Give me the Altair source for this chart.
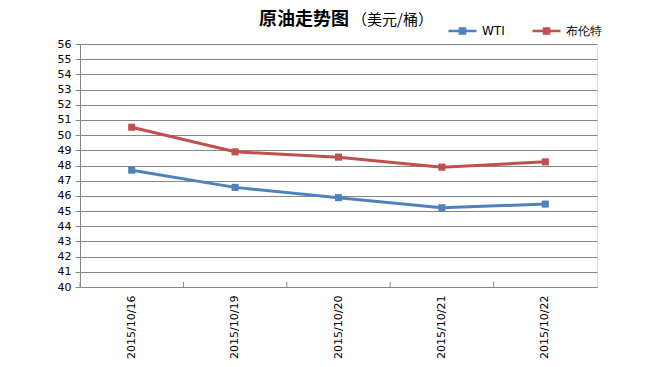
import altair as alt
import pandas as pd

dates = ["2015/10/16", "2015/10/19", "2015/10/20", "2015/10/21", "2015/10/22"]
wti = [47.69, 46.56, 45.88, 45.22, 45.46]
brent = [50.52, 48.90, 48.55, 47.89, 48.24]
series_names = ["WTI", "布伦特"]
series_colors = ["#4F81BD", "#C0504D"]
y_ticks = list(range(40, 57))
title_main = "原油走势图"
title_unit = "（美元/桶）"

rows = []
for d, v in zip(dates, wti):
    rows.append({"date": d, "series": series_names[0], "value": v})
for d, v in zip(dates, brent):
    rows.append({"date": d, "series": series_names[1], "value": v})
df = pd.DataFrame(rows)
df_dates = pd.DataFrame({"date": dates})

FONT = "DejaVu Sans"

x_scale = alt.Scale(paddingInner=0, paddingOuter=0)
x_axis = alt.Axis(
    title=None, labelAngle=-90, labelFont=FONT, labelFontSize=11,
    labelColor="#000000", domainColor="#868686", tickColor="#868686",
    tickSize=0, labelPadding=8, grid=False, bandPosition=0,
)
x_enc = alt.X("date:N", sort=dates, scale=x_scale, axis=x_axis)
y_enc = alt.Y(
    "value:Q",
    scale=alt.Scale(domain=[40, 56], nice=False, zero=False),
    axis=alt.Axis(
        title=None, values=y_ticks, labelFont=FONT, labelFontSize=11,
        labelColor="#000000", domainColor="#868686", tickColor="#868686",
        tickSize=5, labelPadding=4, grid=True, gridColor="#868686",
        gridWidth=1,
    ),
)
color_enc = alt.Color(
    "series:N",
    sort=series_names,
    scale=alt.Scale(domain=series_names, range=series_colors),
    legend=alt.Legend(
        title=None, orient="none", direction="horizontal",
        legendX=367, legendY=-29, labelFont=FONT, labelFontSize=12,
        labelColor="#000000",
        symbolType="M-1,0L1,0M-0.18,-0.18L0.18,-0.18L0.18,0.18L-0.18,0.18Z",
        symbolSize=784, symbolStrokeWidth=2.5, labelOffset=4,
        columnPadding=22, padding=0,
    ),
)

base = alt.Chart(df)
lines = base.mark_line(strokeWidth=3).encode(x=x_enc, y=y_enc, color=color_enc)
points = base.mark_point(shape="square", filled=True, size=50, opacity=1).encode(
    x=x_enc, y=y_enc, color=color_enc
)

xticks = alt.Chart(df_dates).mark_rule(color="#868686", strokeWidth=1).encode(
    x=alt.X("date:N", sort=dates, scale=x_scale, bandPosition=0, axis=x_axis),
    y=alt.value(238),
    y2=alt.value(243),
)

t1 = alt.Chart(pd.DataFrame({"t": [title_main]})).mark_text(
    font="Noto Sans CJK SC", fontSize=18, fontWeight="bold", align="left",
    baseline="alphabetic", color="#000000"
).encode(x=alt.value(179), y=alt.value(-19), text="t:N")
t2 = alt.Chart(pd.DataFrame({"t": [title_unit]})).mark_text(
    font="Noto Sans CJK SC", fontSize=15, align="left",
    baseline="alphabetic", color="#000000"
).encode(x=alt.value(272), y=alt.value(-19), text="t:N")

chart = alt.layer(xticks, lines, points, t1, t2).properties(
    width=517, height=243,
    autosize=alt.AutoSizeParams(type="none"),
    padding={"left": 72, "top": 36, "right": 49, "bottom": 72},
).configure_view(stroke="#000000", strokeWidth=1).configure(background="#ffffff")

chart.save("out.html", embed_options={"renderer": "svg", "actions": False})
